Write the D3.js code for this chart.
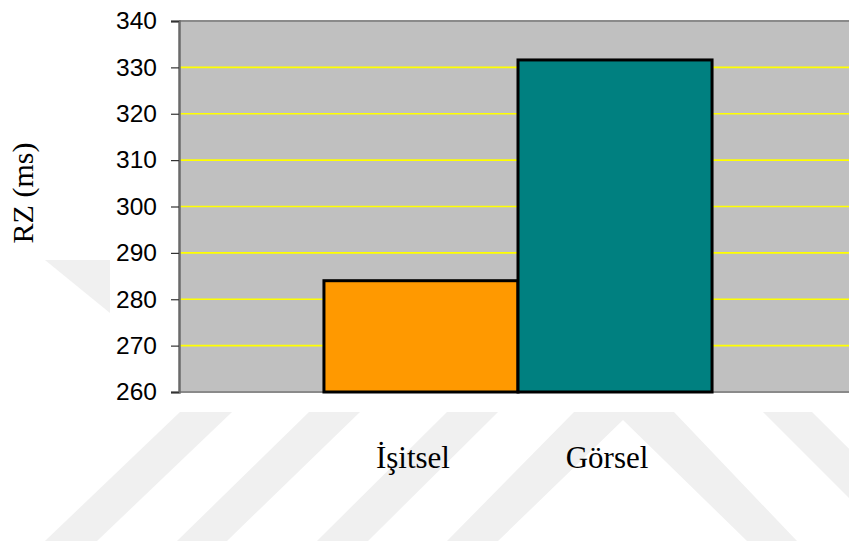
<!DOCTYPE html>
<html>
<head>
<meta charset="utf-8">
<script src="https://cdn.jsdelivr.net/npm/d3@7"></script>
<style>
  body { margin: 0; background: #fff; }
  svg { display: block; }
</style>
</head>
<body>
<svg id="chart" width="849" height="543"></svg>
<script>
// chart data
const categories = ["İşitsel", "Görsel"];
const values = [284, 331.6];
const yTicks = [260, 270, 280, 290, 300, 310, 320, 330, 340];
const barColors = ["#FF9900", "#008080"];

const svg = d3.select("#chart"),
    width = +svg.attr("width"),
    height = +svg.attr("height");

const plot = { left: 179, top: 21, right: 857, bottom: 392 };

// faint page watermark behind the chart (decoration only)
const watermark = [
    [[180, 412], [232, 412], [97, 541], [45, 541]],
    [[309, 412], [360, 412], [227, 541], [177, 541]],
    [[447, 412], [498, 412], [368, 541], [317, 541]],
    [[574, 412], [674, 412], [797, 541], [747, 541], [623, 420], [498, 541], [447, 541]],
    [[763, 412], [812, 412], [942, 541], [892, 541]],
    [[45, 260], [110, 260], [110, 313]]
];
svg.selectAll(".wm")
    .data(watermark)
    .enter().append("polygon")
    .attr("class", "wm")
    .attr("points", d => d.map(p => p.join(",")).join(" "))
    .attr("fill", "#f0f0f0");

const x = d3.scaleBand()
    .domain(categories)
    .range([plot.left, plot.right])
    .paddingInner(0)
    .paddingOuter(0.747);

const y = d3.scaleLinear()
    .domain([260, 340])
    .range([plot.bottom, plot.top]);

// plot background
svg.append("rect")
    .attr("x", plot.left)
    .attr("y", plot.top)
    .attr("width", plot.right - plot.left)
    .attr("height", plot.bottom - plot.top)
    .attr("fill", "#C0C0C0");

// gridlines
svg.selectAll(".grid")
    .data(yTicks.filter(d => d > 260 && d < 340))
    .enter().append("line")
    .attr("class", "grid")
    .attr("x1", plot.left)
    .attr("x2", plot.right)
    .attr("y1", d => y(d))
    .attr("y2", d => y(d))
    .attr("stroke", "#FFFF00")
    .attr("stroke-width", 1.6);

// top and bottom borders
svg.append("line")
    .attr("x1", plot.left).attr("x2", plot.right)
    .attr("y1", plot.top).attr("y2", plot.top)
    .attr("stroke", "#8a8a8a").attr("stroke-width", 2);
svg.append("line")
    .attr("x1", plot.left).attr("x2", plot.right)
    .attr("y1", plot.bottom).attr("y2", plot.bottom)
    .attr("stroke", "#8a8a8a").attr("stroke-width", 2);

// bars
svg.selectAll(".bar")
    .data(categories)
    .enter().append("rect")
    .attr("class", "bar")
    .attr("x", d => x(d))
    .attr("y", (d, i) => y(values[i]))
    .attr("width", x.bandwidth())
    .attr("height", (d, i) => y(260) - y(values[i]))
    .attr("fill", (d, i) => barColors[i])
    .attr("stroke", "#000")
    .attr("stroke-width", 3);

// y axis
const yAxis = d3.axisLeft(y)
    .tickValues(yTicks)
    .tickSize(8)
    .tickPadding(14)
    .tickFormat(d3.format("d"));

const gy = svg.append("g")
    .attr("transform", `translate(${plot.left},0)`)
    .call(yAxis);

gy.select(".domain")
    .attr("stroke", "#6a6a6a")
    .attr("stroke-width", 2.5);
gy.selectAll(".tick line")
    .attr("stroke", "#333")
    .attr("stroke-width", 1.2);
gy.selectAll(".tick text")
    .attr("fill", "#000")
    .style("font-family", "'Liberation Sans', Arial, sans-serif")
    .style("font-size", "24.5px");

// category labels
svg.selectAll(".catLabel")
    .data(categories)
    .enter().append("text")
    .attr("class", "catLabel")
    .attr("x", d => x(d) + x.bandwidth() / 2 - 8)
    .attr("y", 468)
    .attr("text-anchor", "middle")
    .style("font-family", "'Liberation Serif', 'Times New Roman', serif")
    .style("font-size", "31px")
    .attr("fill", "#000")
    .text(d => d);

// y axis title
svg.append("text")
    .attr("transform", "translate(33,193) rotate(-90)")
    .attr("text-anchor", "middle")
    .style("font-family", "'Liberation Serif', 'Times New Roman', serif")
    .style("font-size", "30px")
    .attr("fill", "#000")
    .text("RZ (ms)");
</script>
</body>
</html>
